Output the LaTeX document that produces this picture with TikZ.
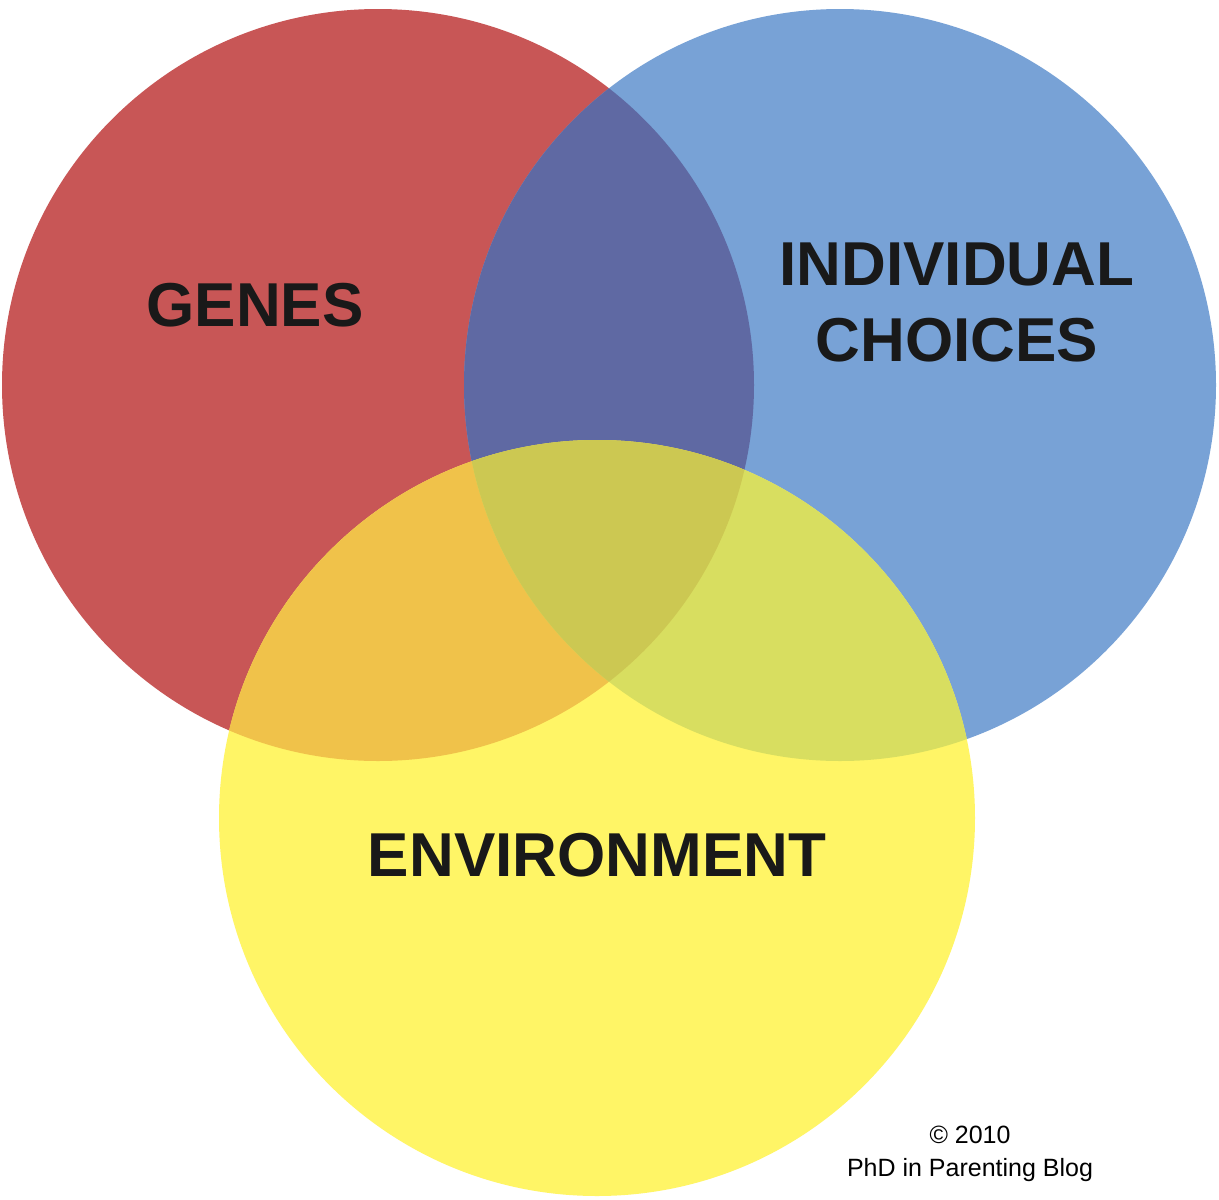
\documentclass[tikz,border=0pt]{standalone}
\usepackage{fontspec}
\setmainfont{Liberation Sans}
\definecolor{cR}{HTML}{C85656}
\definecolor{cB}{HTML}{78A2D6}
\definecolor{cY}{HTML}{FFF566}
\definecolor{cRB}{HTML}{5F69A3}
\definecolor{cRY}{HTML}{F0C24A}
\definecolor{cBY}{HTML}{D8DE60}
\definecolor{cRBY}{HTML}{CCC852}
\begin{document}
\begin{tikzpicture}[x=1pt,y=-1pt,
  lab/.style={font=\bfseries\fontsize{62}{76}\selectfont,align=center,text=black!90}]
\useasboundingbox[fill=white] (0,0) rectangle (1219,1200);
\def\R{(378,385) circle (376)}
\def\B{(840,385) circle (376)}
\def\Y{(597,818) circle (378)}
\fill[cR] \R; \fill[cB] \B; \fill[cY] \Y;
\begin{scope}\clip \R; \fill[cRB] \B; \fill[cRY] \Y; \end{scope}
\begin{scope}\clip \B; \fill[cBY] \Y; \end{scope}
\begin{scope}\clip \R; \clip \B; \fill[cRBY] \Y; \end{scope}
\node[lab] (g) at (255,305) {GENES};
\node[lab] (ic) at (957,302) {INDIVIDUAL\\CHOICES};
\node[lab] (e) at (597,855) {ENVIRONMENT};
\node[font=\fontsize{25}{33}\selectfont,align=center] (c) at (970,1154) {© 2010\\PhD in Parenting Blog};
\end{tikzpicture}
\end{document}
